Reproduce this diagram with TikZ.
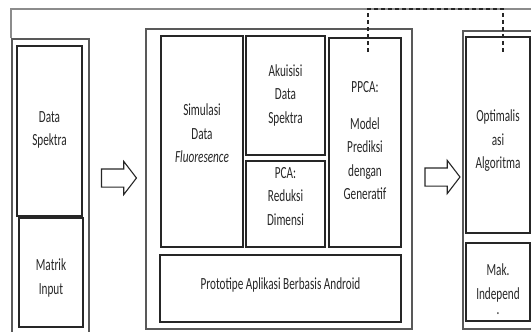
\documentclass[tikz,border=0pt]{standalone}
\usepackage{fontspec}
\setmainfont[FakeStretch=0.66]{Carlito}
\usetikzlibrary{shapes.arrows}

\begin{document}
\begin{tikzpicture}[x=1pt,y=-1pt]

\fontsize{17}{23.5}\selectfont
\definecolor{mydark}{gray}{0.15}
\definecolor{mygray}{gray}{0.35}
\definecolor{mylight}{gray}{0.55}
\tikzset{
  box/.style={draw=mydark,line width=1.4pt,inner sep=0pt},
  boxtext/.style={align=center,text=mydark,inner sep=0pt},
  outerbox/.style={draw=mygray,line width=1.8pt,inner sep=0pt},
  hollowarrow/.style={single arrow,draw=mydark,line width=1.1pt,inner sep=0pt,
    text height=17pt,text depth=0pt,single arrow head extend=7.5pt,
    single arrow tip angle=105,minimum height=35pt},
  mydash/.style={draw=mydark,line width=1.3pt,dash pattern=on 4pt off 3pt}
}
\useasboundingbox (0,0) rectangle (531,332);

% input
\node[outerbox,anchor=north west,minimum width=77,minimum height=310] (inp) at (11,38) {};
\node[box,minimum width=65,minimum height=170] (spektra) at (49.5,131) {};
\node[box,minimum width=64,minimum height=109] (matrik) at (51,272.5) {};
\node[boxtext] (spektratxt) at (49.5,130) {Data\\Spektra};
\node[boxtext] (matriktxt) at (51,278) {Matrik\\Input};

% proses
\node[outerbox,minimum width=266,minimum height=300] (proses) at (279,179) {};
\node[box,minimum width=82,minimum height=211] (sim) at (202,141.5) {};
\node[box,minimum width=79,minimum height=119] (akuisisi) at (285.5,95.5) {};
\node[box,minimum width=79,minimum height=86] (pca) at (285.5,204) {};
\node[box,minimum width=72,minimum height=209] (ppca) at (365,142.5) {};
\node[box,minimum width=241,minimum height=67] (proto) at (280.5,288.5) {};
\node[boxtext] (simtxt) at (202,133.5) {Simulasi\\Data\\\textit{Fluoresence}};
\node[boxtext] (akuisisitxt) at (285.5,95) {Akuisisi\\Data\\Spektra};
\node[boxtext] (pcatxt) at (285.5,196.5) {PCA:\\Reduksi\\Dimensi};
\node[boxtext] (ppcatxt) at (365,141) {PPCA:\\[13pt]Model\\Prediksi\\dengan\\Generatif};
\node[boxtext] (prototxt) at (280.5,284.5) {Prototipe Aplikasi Berbasis Android};

% output
\node[outerbox,anchor=north west,minimum width=90,minimum height=298] (outp) at (462,30) {};
\node[box,minimum width=64,minimum height=196] (optim) at (498,135) {};
\node[box,minimum width=64,minimum height=78] (mak) at (498,282) {};
\node[boxtext] (optimtxt) at (498,141) {Optimalis\\asi\\Algoritma};
\node[boxtext] (maktxt) at (498,289.5) {Mak.\\Independ\\[-8pt].};

\node[hollowarrow] (arrA) at (115.5,178) {};
\node[hollowarrow] (arrB) at (439,177) {};

\coordinate (topend) at (531,9);
\draw[mylight,line width=1.1pt] (inp.north west) |- (topend);

\coordinate (dA) at (368,52);
\coordinate (dB) at (503,53);
\draw[mydash] (dA) -- ++(0,-43) -| (dB);

\end{tikzpicture}
\end{document}
